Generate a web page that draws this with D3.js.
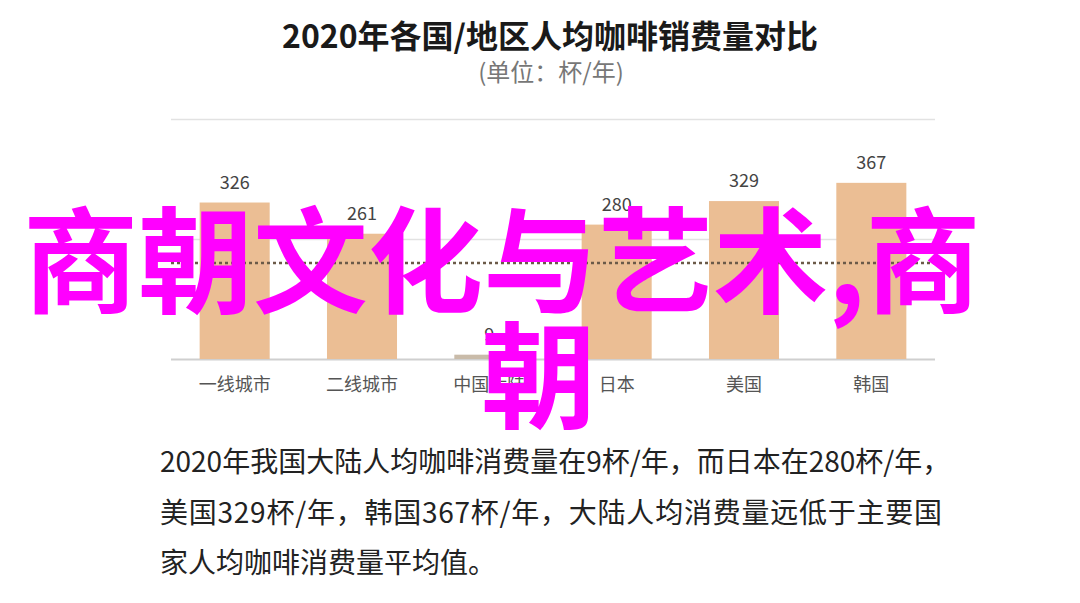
<!DOCTYPE html>
<html>
<head>
<meta charset="utf-8">
<script src="https://cdn.jsdelivr.net/npm/d3@7"></script>
<style>
  body { margin: 0; background: #fff; }
  text { font-family: "Noto Sans CJK SC", "Noto Sans", sans-serif; }
</style>
</head>
<body>
<div id="chart"></div>
<script>
// data
const regions = ["一线城市", "二线城市", "中国大陆", "日本", "美国", "韩国"];
const cups = [326, 261, 9, 280, 329, 367];
const avgCups = 200;               // dotted reference line
const gridTicks = [0, 250, 500];
const title = "2020年各国/地区人均咖啡销费量对比";
const subtitle = "(单位：杯/年)";
const noteLines = [
  "2020年我国大陆人均咖啡消费量在9杯/年，而日本在280杯/年，",
  "美国329杯/年，韩国367杯/年，大陆人均消费量远低于主要国",
  "家人均咖啡消费量平均值。"
];
const overlayLines = ["商朝文化与艺术,商", "朝"];

const width = 1080, height = 603;
const margin = { top: 119, right: 145, bottom: 244, left: 171 };

const svg = d3.select("#chart").append("svg")
    .attr("width", width)
    .attr("height", height)
    .style("background-color", "#fff");

const x = d3.scaleBand()
    .domain(regions)
    .range([margin.left, width - margin.right])
    .paddingInner(0.45)
    .paddingOuter(0.225);

const y = d3.scaleLinear()
    .domain([0, 500])
    .range([height - margin.bottom, margin.top]);

const data = regions.map((r, i) => ({ region: r, value: cups[i] }));

// gridlines
const grid = svg.append("g")
    .attr("transform", `translate(${margin.left},0)`)
    .call(d3.axisLeft(y).tickValues(gridTicks).tickSize(-(width - margin.left - margin.right)).tickFormat(""));
grid.select(".domain").remove();
grid.selectAll(".tick line")
    .attr("stroke", d => d === 0 ? "#cfcfcf" : "#e2e2e2")
    .attr("stroke-width", d => d === 0 ? 2 : 1.5);

// bars
svg.append("g").selectAll("rect")
    .data(data)
    .enter().append("rect")
    .attr("x", d => x(d.region))
    .attr("y", d => y(d.value))
    .attr("width", x.bandwidth())
    .attr("height", d => y(0) - y(d.value))
    .attr("fill", d => d.value < 50 ? "#c9bba9" : "#ebbe94");

// value labels
svg.append("g").selectAll("text")
    .data(data)
    .enter().append("text")
    .attr("x", d => x(d.region) + x.bandwidth() / 2)
    .attr("y", d => y(d.value) - 14)
    .attr("text-anchor", "middle")
    .style("font-size", "18px")
    .attr("fill", "#444")
    .text(d => d.value);

// average dotted line
svg.append("line")
    .attr("x1", margin.left)
    .attr("x2", width - margin.right)
    .attr("y1", y(avgCups))
    .attr("y2", y(avgCups))
    .attr("stroke", "#6b5a48")
    .attr("stroke-width", 2.5)
    .attr("stroke-dasharray", "3,3");

// category axis
const xAxis = svg.append("g")
    .attr("transform", `translate(0,${y(0)})`)
    .call(d3.axisBottom(x).tickSize(0).tickPadding(19));
xAxis.select(".domain").remove();
xAxis.selectAll("text")
    .style("font-size", "18px")
    .style("font-family", "\"Noto Sans CJK SC\", sans-serif")
    .attr("fill", "#555");

// title + subtitle
svg.append("text")
    .attr("x", 550).attr("y", 48)
    .attr("text-anchor", "middle")
    .style("font-size", "32px")
    .style("font-weight", "700")
    .attr("fill", "#1a1a1a")
    .text(title);

svg.append("text")
    .attr("x", 551).attr("y", 81)
    .attr("text-anchor", "middle")
    .style("font-size", "24px")
    .attr("fill", "#777")
    .text(subtitle);

// note paragraph (second line justified to the paragraph width)
svg.append("g").selectAll("text")
    .data(noteLines)
    .enter().append("text")
    .attr("x", 160)
    .attr("y", (d, i) => 472 + i * 50.5)
    .style("font-size", "28px")
    .attr("fill", "#222")
    .attr("textLength", (d, i) => i === 1 ? 782 : null)
    .attr("lengthAdjust", "spacing")
    .text(d => d);

// magenta overlay text
svg.append("g").selectAll("text")
    .data(overlayLines)
    .enter().append("text")
    .attr("x", (d, i) => i === 0 ? 23 : 481)
    .attr("y", (d, i) => 304 + i * 115)
    .style("font-size", "115px")
    .style("font-weight", "700")
    .attr("fill", "#ff00ff")
    .text(d => d);
</script>
</body>
</html>
